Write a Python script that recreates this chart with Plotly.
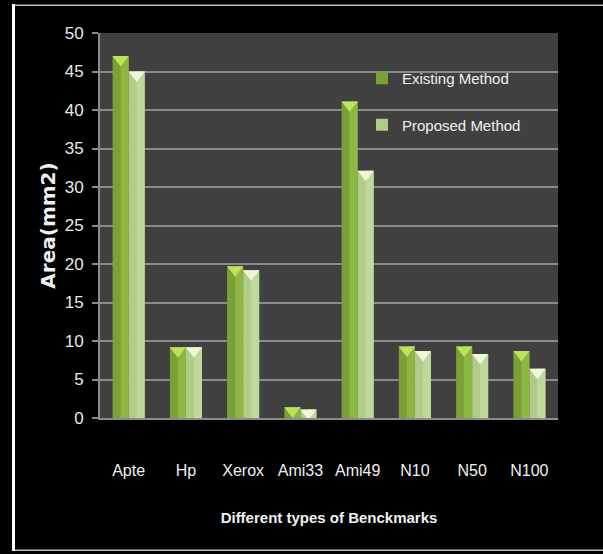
import plotly.graph_objects as go

categories = ["Apte", "Hp", "Xerox", "Ami33", "Ami49", "N10", "N50", "N100"]
existing = [47.0, 9.2, 19.7, 1.4, 41.1, 9.3, 9.3, 8.7]
proposed = [45.0, 9.2, 19.2, 1.1, 32.1, 8.7, 8.3, 6.4]
series_names = ["Existing Method", "Proposed Method"]
y_ticks = list(range(0, 55, 5))

W, H = 603, 554
L, R, T, B = 100, 45, 33, 136
plot_w = W - L - R
plot_h = H - T - B
ymax = 50
ppu = plot_h / ymax

FONT = "Liberation Sans, Arial, sans-serif"
bar_w = 0.28
tri_size = 14

fig = go.Figure()
colors = ["#7ba038", "#b1cc88"]
shade = ["#8db642", "#c0d89c"]
tips = ["#bde35c", "#eef7d6"]
offsets = [-bar_w / 2, bar_w / 2]
for name, vals, c, off in zip(series_names, [existing, proposed], colors, offsets):
    xs = [i + off for i in range(len(categories))]
    fig.add_trace(go.Bar(
        x=xs, y=vals, width=bar_w, name=name,
        marker=dict(color=c, line=dict(width=0)),
    ))
# lighter right-hand half of each bar (bevel shading)
for vals, c, off in zip([existing, proposed], shade, offsets):
    xs = [i + off + bar_w / 4 for i in range(len(categories))]
    fig.add_trace(go.Bar(
        x=xs, y=vals, width=bar_w / 2, showlegend=False, hoverinfo="skip",
        marker=dict(color=c, line=dict(width=0)),
    ))
for vals, c, off in zip([existing, proposed], tips, offsets):
    xs = [i + off for i in range(len(categories))]
    ys = [v - (tri_size / 4) / ppu for v in vals]
    fig.add_trace(go.Scatter(
        x=xs, y=ys, mode="markers", showlegend=False, hoverinfo="skip",
        marker=dict(symbol="triangle-down", size=tri_size, color=c, line=dict(width=0)),
        cliponaxis=False,
    ))

def px(xp):
    return (xp - L) / plot_w

def py(yp):
    return (H - B - yp) / plot_h

def band(x0, x1, y0, y1, color):
    return dict(type="rect", xref="paper", yref="paper",
                x0=px(x0), x1=px(x1), y0=py(y0), y1=py(y1),
                fillcolor=color, line=dict(width=0), layer="above")

shapes = [
    band(12, 15, 4, 551, "#ffffff"),
    band(15, 603, 4.5, 6, "#bfbfbf"),
    band(15, 603, 549.5, 551, "#bfbfbf"),
]

fig.update_layout(
    width=W, height=H,
    margin=dict(l=L, r=R, t=T, b=B, pad=0),
    paper_bgcolor="#000000",
    plot_bgcolor="#404040",
    showlegend=True,
    barmode="overlay",
    shapes=shapes,
    font=dict(family=FONT, color="#e8e8e8", size=16),
    legend=dict(
        x=px(362), y=py(62), xanchor="left", yanchor="top",
        bgcolor="rgba(0,0,0,0)", font=dict(family=FONT, size=15, color="#f0f0f0"),
        tracegroupgap=24, traceorder="grouped", itemwidth=30,
    ),
    xaxis=dict(
        range=[-0.5, len(categories) - 0.5],
        tickmode="array", tickvals=list(range(len(categories))), ticktext=categories,
        showgrid=False, zeroline=False, ticks="", ticklabelstandoff=37,
        showline=True, linecolor="#8c8c8c", linewidth=2,
        tickfont=dict(family=FONT, size=16, color="#f0f0f0"),
        title=dict(text="<b>Different types of Benckmarks</b>", standoff=34,
                   font=dict(family=FONT, size=15, color="#f0f0f0")),
    ),
    yaxis=dict(
        range=[0, ymax], tickmode="array", tickvals=y_ticks,
        showgrid=True, gridcolor="#8a8a8a", gridwidth=2,
        zeroline=False, ticks="outside", ticklen=6, tickcolor="#8a8a8a", tickwidth=2,
        showline=True, linecolor="#8c8c8c", linewidth=2,
        tickfont=dict(family=FONT, size=17, color="#e8e8e8"),
        ticklabelstandoff=5,
        title=dict(text="<b>Area(mm2)</b>", standoff=4,
                   font=dict(family="DejaVu Sans, sans-serif", size=20, color="#f0f0f0")),
    ),
)
for i, tr in enumerate(fig.data[:2]):
    tr.legendgroup = f"g{i}"

fig.write_html("out.html")
